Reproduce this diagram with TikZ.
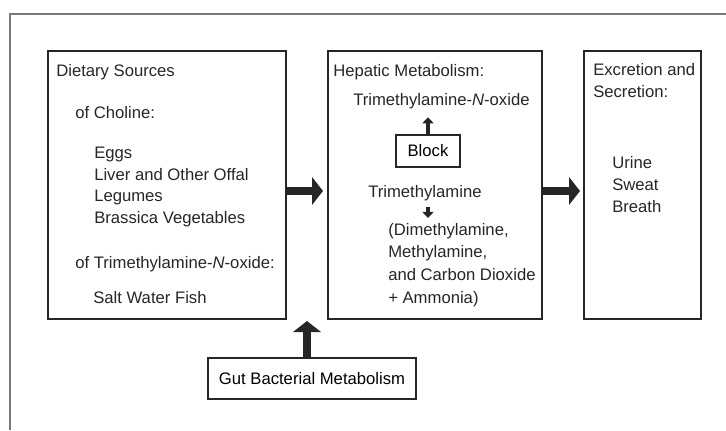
\documentclass[tikz,border=0pt]{standalone}
\usepackage{fontspec}
\setmainfont{Liberation Sans}
\usepackage{xcolor}
\definecolor{ink}{HTML}{262626}
\definecolor{framegray}{HTML}{7A7A7A}
\usepackage{tikz}
\usetikzlibrary{arrows.meta,positioning,calc}

\begin{document}
\begin{tikzpicture}[
  x=0.75pt, y=0.75pt,
  font=\fontsize{12.5}{16.1}\selectfont,
  node distance=31.5pt,
  box/.style={draw=ink, line width=1.5pt, outer sep=0pt, inner sep=0pt},
  txt/.style={anchor=base west, inner sep=0pt, align=left, text=ink},
  bigarrow/.style={draw=ink, line width=6pt, -{Triangle[length=8.25pt, width=21pt, line width=0pt]}},
  smallarrow/.style={draw=ink, line width=2.4pt, -{Triangle[length=4.5pt, width=8.5pt, line width=0pt]}},
  frame/.style={draw=framegray, line width=2pt},
]
\useasboundingbox (0,0) rectangle (726,430);

% Outer frame
\draw[frame] (10,0) -- (10,416) -- (726,416);

% Boxes
\node[box, minimum width=178.5pt, minimum height=201pt] (diet) at (167,245) {};
\node[box, minimum width=160.5pt, minimum height=201pt, right=of diet] (hep) {};
\node[box, minimum width=87.75pt, minimum height=201pt, right=of hep] (exc) {};
\node[box, minimum width=48pt, minimum height=24pt] (block) at (428,279) {Block};
\node[box, minimum width=156pt, minimum height=30.75pt] (gut) at (312,51.5) {Gut Bacterial Metabolism};

% Dietary sources (multi-line texts sit on their last line)
\node[txt] (dietttl) at ($(diet.north west)+(8,-25)$) {Dietary Sources};
\node[txt] (choline) at ($(diet.north west)+(27,-67)$) {of Choline:};
\node[txt] (foods) at ($(diet.north west)+(46,-172)$) {Eggs\\Liver and Other Offal\\Legumes\\Brassica Vegetables};
\node[txt] (oftmao) at ($(diet.north west)+(27,-217)$) {of Trimethylamine-\textit{N}-oxide:};
\node[txt] (fish) at ($(diet.north west)+(45,-252)$) {Salt Water Fish};

% Hepatic metabolism
\node[txt] (hepttl) at ($(hep.north west)+(5,-25)$) {Hepatic Metabolism:};
\node[txt] (tmao) at ($(hep.north west)+(25,-54)$) {Trimethylamine-\textit{N}-oxide};
\node[txt] (tma) at ($(hep.north west)+(40,-146)$) {Trimethylamine};
\node[txt, font=\fontsize{12.5}{17}\selectfont] (dma) at ($(hep.north west)+(60,-252)$) {(Dimethylamine,\\Methylamine,\\and Carbon Dioxide\\+ Ammonia)};

% Excretion
\node[txt] (excttl) at ($(exc.north west)+(9,-46)$) {Excretion and\\Secretion:};
\node[txt, font=\fontsize{12.5}{16.5}\selectfont] (routes) at ($(exc.north west)+(28,-161)$) {Urine\\Sweat\\Breath};

% Connectors
\draw[bigarrow, shorten >=3.75pt] ([yshift=-4.5pt]diet.east) -- ([yshift=-4.5pt]hep.west);
\draw[bigarrow, shorten >=3pt] ([yshift=-4.5pt]hep.east) -- ([yshift=-4.5pt]exc.west);
\coordinate (gutin) at ($(gut.north)+(-5,37)$);
\draw[bigarrow] ([xshift=-3.75pt]gut.north) -- (gutin);
\draw[smallarrow, shorten >=6.4pt] (block.north) -- (tmao.south -| block.north);
\draw[smallarrow, shorten <=5pt, shorten >=3.5pt] (tma.south -| block.south) -- (dma.north -| block.south);
\end{tikzpicture}
\end{document}
